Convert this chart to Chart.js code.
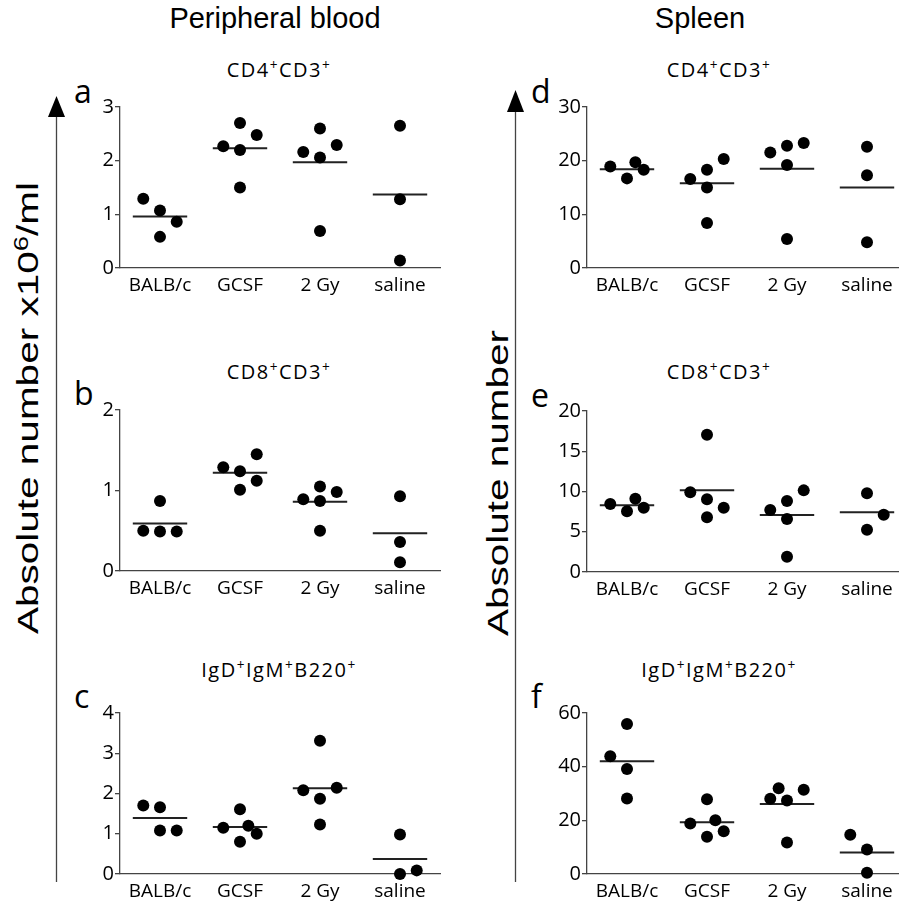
<!DOCTYPE html>
<html><head><meta charset="utf-8">
<script src="https://cdn.jsdelivr.net/npm/chart.js@4/dist/chart.umd.min.js"></script>
<style>
html,body{margin:0;padding:0;background:#fff;}
.wrap{position:relative;width:899px;height:905px;overflow:hidden;background:#fff;}
canvas{position:absolute;}
.t{position:absolute;white-space:nowrap;color:#000;line-height:1;}
.title{font-family:"Liberation Sans",Arial,sans-serif;font-size:29px;transform:translateX(-50%);}
.sub{font-family:"Open Sans",sans-serif;font-size:20px;letter-spacing:1.5px;transform:translateX(-50%);}
sup{font-size:0.68em;vertical-align:0.5em;line-height:0;}
.letter{font-family:"Open Sans",sans-serif;font-size:32px;}
.ylab{font-family:"Liberation Sans",Arial,sans-serif;font-size:30px;transform:translate(-50%,-50%) rotate(-90deg) scaleX(1.35);}
svg{position:absolute;left:0;top:0;}
</style></head>
<body>
<div class="wrap" id="wrap">
<svg width="899" height="905">
  <line x1="56.5" y1="116" x2="56.5" y2="882" stroke="#444" stroke-width="1.3"/>
  <polygon points="48,117 65,117 56.5,96" fill="#000"/>
  <line x1="515.5" y1="111" x2="515.5" y2="882" stroke="#444" stroke-width="1.3"/>
  <polygon points="507,112 524,112 515.5,90" fill="#000"/>
</svg>
<div class="t title" style="left:275px;top:4px;">Peripheral blood</div>
<div class="t title" style="left:700px;top:4px;">Spleen</div>
<div class="t sub" style="left:279px;top:60px;">CD4<sup>+</sup>CD3<sup>+</sup></div>
<div class="t sub" style="left:719px;top:60px;">CD4<sup>+</sup>CD3<sup>+</sup></div>
<div class="t sub" style="left:279px;top:362px;">CD8<sup>+</sup>CD3<sup>+</sup></div>
<div class="t sub" style="left:719px;top:362px;">CD8<sup>+</sup>CD3<sup>+</sup></div>
<div class="t sub" style="left:279px;top:660px;">IgD<sup>+</sup>IgM<sup>+</sup>B220<sup>+</sup></div>
<div class="t sub" style="left:719px;top:660px;">IgD<sup>+</sup>IgM<sup>+</sup>B220<sup>+</sup></div>
<div class="t letter" style="left:74px;top:75px;">a</div>
<div class="t letter" style="left:74px;top:377px;">b</div>
<div class="t letter" style="left:74px;top:680px;">c</div>
<div class="t letter" style="left:531px;top:75px;">d</div>
<div class="t letter" style="left:531px;top:379px;">e</div>
<div class="t letter" style="left:531px;top:680px;">f</div>
<div class="t ylab" style="left:28px;top:408px;">Absolute number x10<sup>6</sup>/ml</div>
<div class="t ylab" style="left:498px;top:483px;">Absolute number</div>
</div>
<script>
const groups = ['BALB/c', 'GCSF', '2 Gy', 'saline'];

// Peripheral blood (x10^6/ml)
const pbCD4 = [[1.29, 1.07, 0.86, 0.58], [2.27, 2.70, 2.48, 2.20, 1.50], [2.16, 2.60, 2.29, 2.06, 0.69], [2.65, 1.28, 0.14]];
const pbCD4Med = [0.96, 2.23, 1.97, 1.37];
const pbCD8 = [[0.87, 0.50, 0.49, 0.49], [1.29, 1.24, 1.45, 1.12, 1.01], [0.89, 0.87, 0.98, 1.05, 0.50], [0.93, 0.36, 0.11]];
const pbCD8Med = [0.59, 1.22, 0.86, 0.47];
const pbB = [[1.70, 1.66, 1.08, 1.08], [1.15, 1.61, 1.20, 1.00, 0.80], [3.31, 2.08, 2.14, 1.87, 1.23], [0.98, 0.00, 0.09]];
const pbBMed = [1.39, 1.17, 2.13, 0.37];

// Spleen (absolute number)
const spCD4 = [[18.9, 16.7, 19.7, 18.3], [16.6, 18.3, 20.3, 15.0, 8.4], [21.5, 22.8, 23.3, 19.2, 5.4], [22.6, 17.3, 4.8]];
const spCD4Med = [18.4, 15.8, 18.5, 15.0];
const spCD8 = [[8.45, 7.54, 9.11, 7.99], [9.90, 17.06, 9.03, 7.99, 6.79], [7.70, 8.82, 10.14, 6.58, 1.90], [9.77, 7.12, 5.26]];
const spCD8Med = [8.28, 10.14, 7.08, 7.41];
const spB = [[43.9, 55.9, 39.1, 28.1], [18.8, 27.9, 20.0, 15.9, 13.9], [28.0, 32.0, 27.4, 31.4, 11.7], [14.6, 9.1, 0.5]];
const spBMed = [42.0, 19.3, 26.1, 8.0];

// Horizontal placement slots of the dots within each group (layout only)
const pbCD4Slots = [[-1, 0, 1, 0], [-1, 0, 1, 0, 0], [-1, 0, 1, 0, 0], [0, 0, 0]];
const pbCD8Slots = [[0, -1, 0, 1], [-1, 0, 1, 1, 0], [-1, 0, 1, 0, 0], [0, 0, 0]];
const pbBSlots = [[-1, 0, 0, 1], [-1, 0, 0.5, 1, 0], [0, -1, 1, 0, 0], [0, 0, 1]];
const spCD4Slots = [[-1, 0, 0.5, 1], [-1, 0, 1, 0, 0], [-1, 0, 1, 0, 0], [0, 0, 0]];
const spCD8Slots = [[-1, 0, 0.5, 1], [-1, 0, 0, 1, 0], [-1, 0, 1, 0, 0], [0, 1, 0]];
const spBSlots = [[-1, 0, 0, 0], [-1, 0, 0.5, 1, 0], [-1, -0.5, 0, 1, 0], [-1, 0, 0]];

const SLOT = 0.209, HALF = 0.34;
const AX = '#444';

function panel(left, top, yw, values, slots, meds, maxY, step) {
  const c = document.createElement('canvas');
  const W = yw + 320 + 20, H = 20 + 161 + 40;
  c.width = W; c.height = H;
  c.style.left = left + 'px'; c.style.top = top + 'px';
  document.getElementById('wrap').appendChild(c);
  const pts = [];
  values.forEach((arr, g) => arr.forEach((v, k) => pts.push({x: g + 0.5 + slots[g][k] * SLOT, y: v})));
  const med = [];
  meds.forEach((m, g) => { med.push({x: g + 0.5 - HALF, y: m}, {x: g + 0.5 + HALF, y: m}, {x: g + 0.5 + HALF, y: null}); });
  new Chart(c, {
    type: 'scatter',
    data: {datasets: [
      {data: pts, pointRadius: 6, pointHoverRadius: 6, backgroundColor: '#000', borderWidth: 0, clip: false},
      {type: 'line', data: med, borderColor: '#222', borderWidth: 2, pointRadius: 0, spanGaps: false, fill: false, clip: false}
    ]},
    options: {
      responsive: false, animation: false, events: [],
      plugins: {legend: {display: false}, tooltip: {enabled: false}},
      layout: {padding: {top: 20, right: 20, left: 0, bottom: 0}},
      scales: {
        x: {type: 'linear', min: 0, max: 4,
          afterBuildTicks: s => { s.ticks = groups.map((g, i) => ({value: i + 0.5})); },
          ticks: {callback: (v, i) => groups[i], font: {family: 'Open Sans', size: 19}, color: '#000', padding: 6, maxRotation: 0, autoSkip: false},
          grid: {display: false, drawTicks: false},
          border: {display: true, color: AX, width: 1.3},
          afterFit: s => { s.height = 40; }},
        y: {type: 'linear', min: 0, max: maxY,
          ticks: {stepSize: step, font: {family: 'Open Sans', size: 20}, color: '#000', padding: 1},
          grid: {drawOnChartArea: false, drawTicks: true, tickLength: 5, color: AX, lineWidth: 1.3},
          border: {display: true, color: AX, width: 1.3},
          afterFit: s => { s.width = yw; }}
      }
    }
  });
}

panel(40, 87, 80, pbCD4, pbCD4Slots, pbCD4Med, 3, 1);
panel(40, 390, 80, pbCD8, pbCD8Slots, pbCD8Med, 2, 1);
panel(40, 693, 80, pbB, pbBSlots, pbBMed, 4, 1);
panel(527, 87, 60, spCD4, spCD4Slots, spCD4Med, 30, 10);
panel(527, 391, 60, spCD8, spCD8Slots, spCD8Med, 20, 5);
panel(527, 693, 60, spB, spBSlots, spBMed, 60, 20);
</script>
</body></html>
